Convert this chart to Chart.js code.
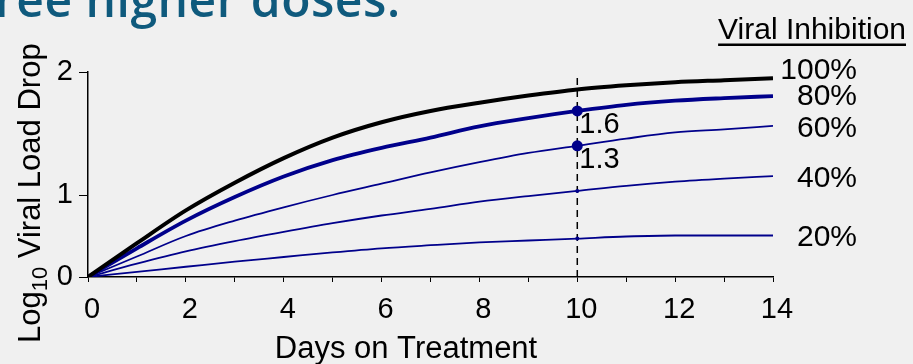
<!DOCTYPE html>
<html>
<head>
<meta charset="utf-8">
<script src="https://cdn.jsdelivr.net/npm/chart.js@4"></script>
<style>
  body { margin: 0; background: #f0f0f0; overflow: hidden; }
  #wrap { position: relative; width: 913px; height: 364px; }
  #title {
    position: absolute; left: -5px; top: -25px; white-space: nowrap;
    font-family: 'Open Sans', sans-serif; font-size: 48px; line-height: 48px;
    font-weight: 600; letter-spacing: 0.5px; color: #0f5a7d;
  }
</style>
</head>
<body>
<div id="wrap">
  <div id="title">ree higher doses:</div>
  <canvas id="viralChart" width="913" height="364"></canvas>
</div>
<script>
// days on treatment
const days = [0, 1, 2, 3, 4, 5, 6, 7, 8, 9, 10, 11, 12, 13, 14];
// log10 viral load drop for each level of viral inhibition
const drop100 = [0, 0.33, 0.65, 0.92, 1.16, 1.36, 1.51, 1.62, 1.70, 1.77, 1.83, 1.87, 1.90, 1.92, 1.94];
const drop80  = [0, 0.28, 0.55, 0.78, 0.98, 1.14, 1.26, 1.36, 1.47, 1.55, 1.62, 1.68, 1.72, 1.745, 1.765];
const drop60  = [0, 0.20, 0.40, 0.55, 0.68, 0.80, 0.91, 1.02, 1.12, 1.21, 1.28, 1.35, 1.41, 1.44, 1.475];
const drop40  = [0, 0.13, 0.25, 0.35, 0.44, 0.525, 0.60, 0.665, 0.735, 0.79, 0.84, 0.89, 0.93, 0.96, 0.985];
const drop20  = [0, 0.05, 0.10, 0.15, 0.195, 0.24, 0.28, 0.31, 0.337, 0.356, 0.375, 0.395, 0.405, 0.405, 0.405];
const seriesLabels = ['100%', '80%', '60%', '40%', '20%'];

const markDay = 10;          // dashed reference day
const markLineTop = 1.97;
const yTickValues = [0, 0.8, 2];
const yTickLabels = ['0', '1', '2'];

const navy = '#00008b';
const FONT = "'Liberation Sans', Arial, sans-serif";

function pts(arr) {
    return arr.map((v, i) => ({ x: days[i], y: v }));
}
const markIdx = days.indexOf(markDay);

function dotRadius(r) {
    return function(ctx) { return ctx.dataIndex === markIdx ? r : 0; };
}

const datasets = [
    { label: seriesLabels[0], data: pts(drop100), borderColor: '#000', borderWidth: 4, pointRadius: 0 },
    { label: seriesLabels[1], data: pts(drop80), borderColor: navy, borderWidth: 3.8, pointRadius: dotRadius(5.5), annotate: true },
    { label: seriesLabels[2], data: pts(drop60), borderColor: navy, borderWidth: 1.8, pointRadius: dotRadius(5.5), annotate: true },
    { label: seriesLabels[3], data: pts(drop40), borderColor: navy, borderWidth: 1.8, pointRadius: dotRadius(2) },
    { label: seriesLabels[4], data: pts(drop20), borderColor: navy, borderWidth: 1.8, pointRadius: dotRadius(2) },
];
datasets.forEach(d => {
    d.pointBackgroundColor = navy;
    d.pointBorderWidth = 0;
    d.tension = 0.4;
    d.cubicInterpolationMode = 'monotone';
    d.fill = false;
});
datasets.push({
    label: 'mark', data: [{ x: markDay, y: 0 }, { x: markDay, y: markLineTop }],
    borderColor: '#000', borderWidth: 1.5, borderDash: [7, 5], pointRadius: 0, isMark: true
});

// extra text: axis titles, series labels, the values at day 10
const textPlugin = {
    id: 'texts',
    afterDraw(chart) {
        const c = chart.ctx;
        const xs = chart.scales.x, ys = chart.scales.y;
        c.save();
        c.fillStyle = '#000';

        // x title
        c.font = '31px ' + FONT;
        c.textAlign = 'center';
        c.textBaseline = 'alphabetic';
        c.fillText('Days on Treatment', 406, 358);

        // y title with subscript
        c.save();
        c.translate(40, 343);
        c.rotate(-Math.PI / 2);
        c.textAlign = 'left';
        c.font = '31px ' + FONT;
        c.fillText('Log', 0, 0);
        let w = c.measureText('Log').width;
        c.font = '22px ' + FONT;
        c.fillText('10', w, 7);
        w += c.measureText('10').width;
        c.font = '31px ' + FONT;
        c.fillText(' Viral Load Drop', w, 0);
        c.restore();

        // legend heading
        c.font = '30px ' + FONT;
        c.textAlign = 'right';
        c.fillText('Viral Inhibition', 906, 39);
        const hw = c.measureText('Viral Inhibition').width;
        c.fillRect(906 - hw, 43.5, hw, 2.5);

        // series labels at line ends
        const nudge = [-10, -2, 0, 0, 0];
        chart.data.datasets.forEach((d, i) => {
            if (d.isMark) return;
            const last = d.data[d.data.length - 1].y;
            c.fillText(d.label, 857, ys.getPixelForValue(last) + 11 + nudge[i]);
        });

        // values at the marked day
        c.textAlign = 'left';
        c.font = '29px ' + FONT;
        chart.data.datasets.forEach(d => {
            if (!d.annotate) return;
            const v = d.data[markIdx].y;
            c.fillText(v.toFixed(1), xs.getPixelForValue(markDay) + 2, ys.getPixelForValue(v) + 22);
        });
        c.restore();
    }
};

new Chart(document.getElementById('viralChart'), {
    type: 'line',
    data: { datasets: datasets },
    plugins: [textPlugin],
    options: {
        responsive: false,
        animation: false,
        layout: { padding: { left: 0, right: 140, top: 72, bottom: 0 } },
        plugins: { legend: { display: false }, tooltip: { enabled: false } },
        scales: {
            x: {
                type: 'linear', min: 0, max: 14,
                afterFit: s => { s.height = 87; },
                border: { display: true, color: '#000', width: 1.5 },
                grid: { drawOnChartArea: false, tickLength: 5, tickColor: '#000' },
                ticks: {
                    stepSize: 1, autoSkip: false, maxRotation: 0, padding: 11, labelOffset: 4,
                    color: '#000', font: { family: FONT, size: 29 },
                    callback: v => (v % 2 === 0 ? String(v) : '')
                }
            },
            y: {
                min: 0, max: 2,
                afterFit: s => { s.width = 88; },
                afterBuildTicks: s => { s.ticks = yTickValues.map(v => ({ value: v })); },
                border: { display: true, color: '#000', width: 1.5 },
                grid: { drawOnChartArea: false, tickLength: 9, tickColor: '#000' },
                ticks: {
                    padding: 6, color: '#000', font: { family: FONT, size: 29 },
                    callback: (v, i) => yTickLabels[i]
                }
            }
        }
    }
});
</script>
</body>
</html>
